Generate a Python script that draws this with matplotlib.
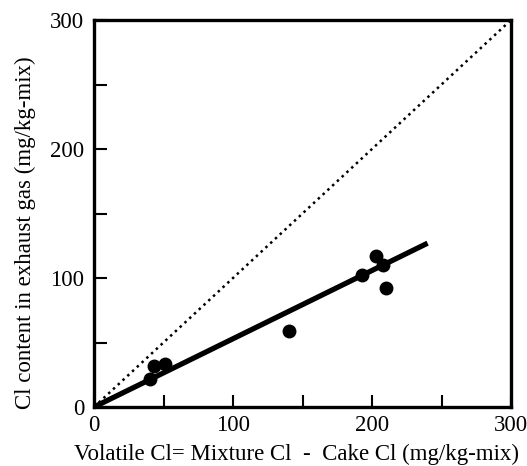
# Cl in exhaust gas vs volatile Cl

import numpy as np
import matplotlib.pyplot as plt

volatile_cl = [40, 43, 51, 140, 193, 203, 208, 210]
exhaust_cl = [22, 32, 33, 59, 102, 117, 110, 92]

fit_x = [0, 240]
fit_y = [0, 127]

tick_vals = [0, 100, 200, 300]

plt.rcParams['font.family'] = ['Liberation Serif', 'DejaVu Serif']

fig = plt.figure(figsize=(5.27, 4.66), dpi=100)
ax = fig.add_axes([94/527, 1 - 407/466, 417/527, 387/466])

ax.plot([0, 300], [0, 300], color='black', linestyle=(0, (1, 1.6)), linewidth=1.8)
ax.plot(fit_x, fit_y, color='black', linewidth=3.8, solid_capstyle='butt')
ax.plot(volatile_cl, exhaust_cl, 'o', color='black', markersize=9)

ax.set_xlim(0, 300)
ax.set_ylim(0, 300)
ax.set_xticks(tick_vals)
ax.set_yticks(tick_vals)
ax.set_xticks([50, 150, 250], minor=True)
ax.set_yticks([50, 150, 250], minor=True)
ax.tick_params(which='both', direction='in', length=9, width=1.5, labelsize=16.5)
ax.tick_params(axis='x', pad=6)
ax.tick_params(axis='y', pad=7)

for s in ax.spines.values():
    s.set_linewidth(2.4)

ax.set_xlabel('Volatile Cl= Mixture Cl  -  Cake Cl (mg/kg-mix)', fontsize=16.5)
ax.set_ylabel('Cl content in exhaust gas (mg/kg-mix)', fontsize=16.5)
ax.xaxis.set_label_coords(0.486, -0.095)
ax.yaxis.set_label_coords(-0.14, 0.45)

fig.savefig('out.png', dpi=100)
